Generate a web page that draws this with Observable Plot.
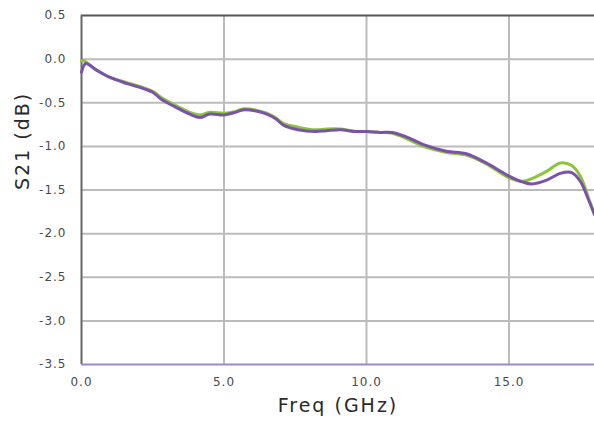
<!DOCTYPE html>
<html>
<head>
<meta charset="utf-8">
<script src="https://cdn.jsdelivr.net/npm/d3@7"></script>
<script src="https://cdn.jsdelivr.net/npm/@observablehq/plot@0.6"></script>
<style>
  html, body { margin: 0; padding: 0; background: #fff; }
  #chart svg { display: block; }
</style>
</head>
<body>
<div id="chart"></div>
<script>
const freq = [0.0, 0.15, 0.5, 1.0, 1.6, 2.2, 2.5, 2.8, 3.3, 3.8, 4.15, 4.5, 5.0, 5.4, 5.7, 6.2, 6.5, 6.8, 7.1, 7.6, 8.2, 8.6, 9.1, 9.6, 10.0, 10.5, 10.9, 11.4, 12.0, 12.8, 13.5, 14.2, 15.0, 15.5, 15.8, 16.3, 16.8, 17.2, 17.5, 17.8, 18.0];
const s21Green = [-0.02, -0.03, -0.12, -0.21, -0.27, -0.33, -0.37, -0.44, -0.53, -0.61, -0.64, -0.61, -0.62, -0.60, -0.57, -0.59, -0.62, -0.67, -0.74, -0.78, -0.81, -0.80, -0.80, -0.83, -0.83, -0.84, -0.85, -0.91, -1.00, -1.07, -1.10, -1.20, -1.36, -1.40, -1.37, -1.29, -1.19, -1.22, -1.34, -1.60, -1.78];
const s21Purple = [-0.15, -0.05, -0.12, -0.21, -0.28, -0.34, -0.38, -0.46, -0.55, -0.63, -0.67, -0.63, -0.64, -0.61, -0.58, -0.60, -0.63, -0.68, -0.76, -0.81, -0.83, -0.82, -0.81, -0.83, -0.83, -0.84, -0.84, -0.89, -0.98, -1.055, -1.085, -1.19, -1.34, -1.41, -1.43, -1.39, -1.31, -1.30, -1.40, -1.62, -1.78];
const xTicks = [0, 5, 10, 15];
const yTicks = [0.5, 0.0, -0.5, -1.0, -1.5, -2.0, -2.5, -3.0, -3.5];
const xTitle = "Freq (GHz)";
const yTitle = "S21 (dB)";

const green = "#8cc43c";
const purple = "#7a52aa";

const rows = freq.map((f, i) => ({f, green: s21Green[i], purple: s21Purple[i]}));
const fmt = d => d.toFixed(1);

const chart = Plot.plot({
  width: 594,
  height: 428,
  marginLeft: 81,
  marginRight: 0,
  marginTop: 15,
  marginBottom: 64,
  style: {fontFamily: "DejaVu Sans", background: "#fff", overflow: "visible"},
  x: {domain: [0, 18]},
  y: {domain: [-3.5, 0.5]},
  marks: [
    Plot.gridX(xTicks.filter(d => d > 0), {stroke: "#bbb", strokeOpacity: 1, strokeWidth: 2}),
    Plot.gridY(yTicks.filter(d => d > -3.5 && d < 0.5), {stroke: "#bbb", strokeOpacity: 1, strokeWidth: 2}),
    Plot.ruleY([0.5], {stroke: "#555", strokeWidth: 2}),
    Plot.ruleX([0], {stroke: "#666", strokeWidth: 2}),
    Plot.ruleY([-3.5], {stroke: "#9d88c8", strokeWidth: 2}),
    Plot.line(rows, {x: "f", y: "green", stroke: green, strokeWidth: 3, curve: "catmull-rom"}),
    Plot.line(rows, {x: "f", y: "purple", stroke: purple, strokeWidth: 3, curve: "catmull-rom"}),
    Plot.axisX(xTicks, {tickSize: 0, tickPadding: 13, tickFormat: fmt, fontSize: 12, fill: "#4a4a4a", label: null}),
    Plot.axisY(yTicks, {tickSize: 0, tickPadding: 15, tickFormat: fmt, fontSize: 12, fill: "#4a4a4a", label: null}),
    Plot.text([xTitle], {frameAnchor: "bottom", dy: 47, fontSize: 19, fill: "#2a2a2a", text: d => d}),
    Plot.text([yTitle], {frameAnchor: "left", dx: -59, rotate: -90, fontSize: 19, fill: "#2a2a2a", text: d => d})
  ]
});

const svg = d3.select(chart);
svg.selectAll('g[aria-label="x-axis tick label"] text, g[aria-label="y-axis tick label"] text').style("letter-spacing", "1px");
svg.selectAll('g[aria-label="text"] text').style("letter-spacing", "2px");
document.getElementById("chart").appendChild(chart);
</script>
</body>
</html>
